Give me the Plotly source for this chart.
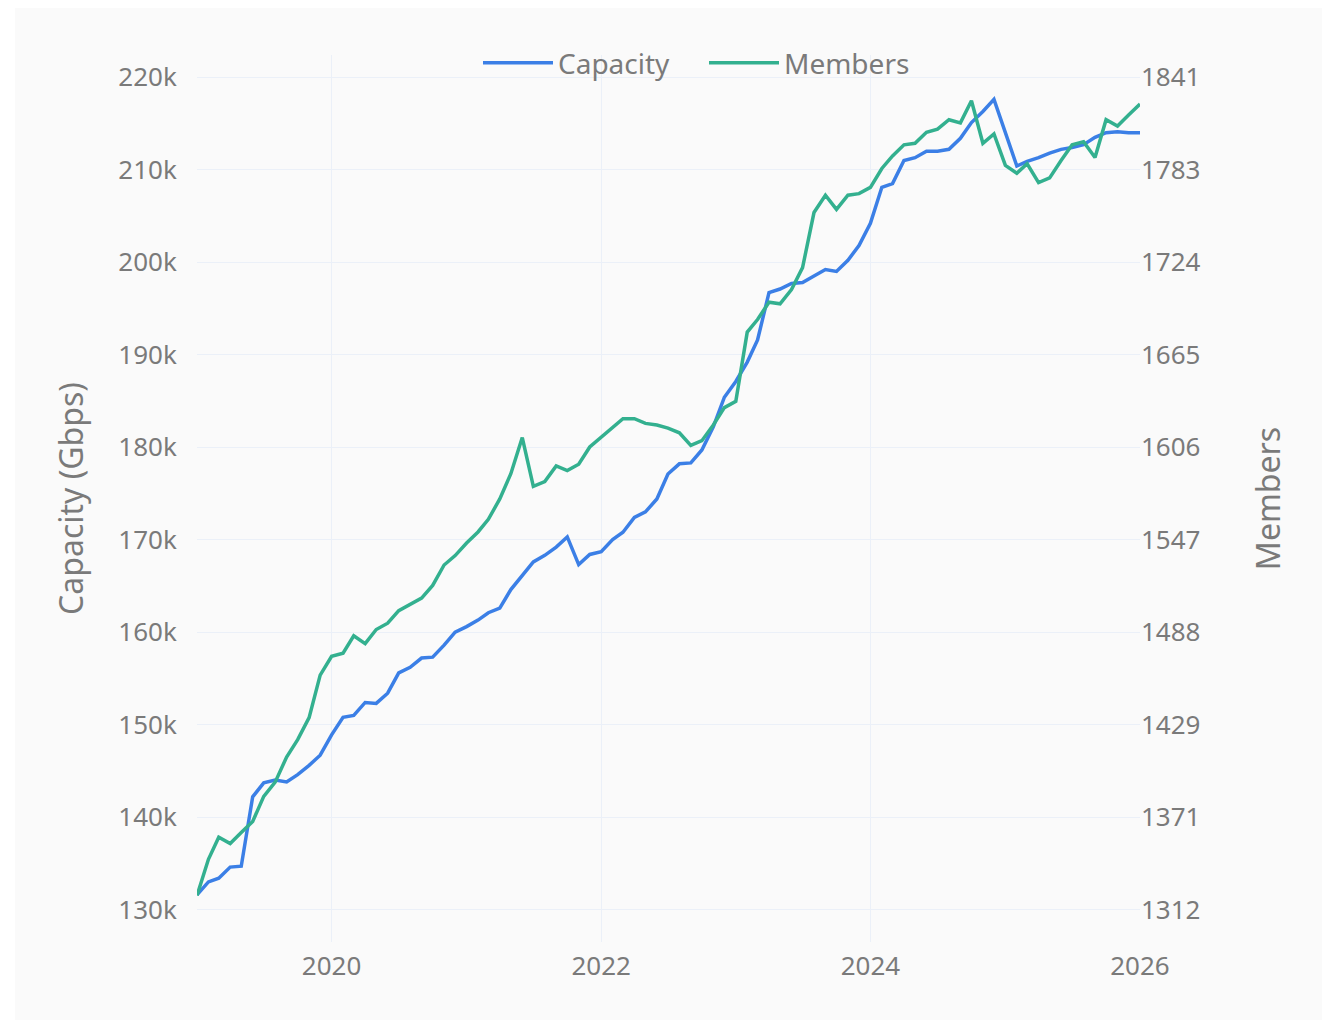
import plotly.graph_objects as go

months = [f"{2019 + i // 12}-{i % 12 + 1:02d}-01" for i in range(85)]

capacity_k = [
    131.6, 133.0, 133.4, 134.6, 134.7, 142.2, 143.7, 144.0, 143.8, 144.6, 145.6, 146.7,
    148.9, 150.8, 151.0, 152.4, 152.3, 153.4, 155.6, 156.2, 157.2, 157.3, 158.6, 160.0,
    160.6, 161.3, 162.1, 162.6, 164.6, 166.1, 167.6, 168.3, 169.2, 170.3, 167.3, 168.4,
    168.7, 170.0, 170.8, 172.4, 173.0, 174.4, 177.1, 178.2, 178.3, 179.7, 182.2, 185.4,
    187.1, 189.2, 191.6, 196.7, 197.1, 197.7, 197.8, 198.5, 199.2, 199.0, 200.2, 201.8,
    204.2, 208.1, 208.5, 211.0, 211.3, 212.0, 212.0, 212.2, 213.4, 215.1, 216.3, 217.6,
    213.9, 210.4, 210.9, 211.3, 211.8, 212.2, 212.4, 212.7, 213.5, 214.0, 214.1, 214.0,
    214.0,
]
capacity = [v * 1000 for v in capacity_k]

members = [
    1321, 1344, 1358, 1354, 1361, 1368, 1384, 1393, 1409, 1420, 1434, 1461,
    1473, 1475, 1486, 1481, 1490, 1494, 1502, 1506, 1510, 1518, 1531, 1537,
    1545, 1552, 1560, 1573, 1589, 1612, 1581, 1584, 1594, 1591, 1595, 1606,
    1612, 1618, 1624, 1624, 1621, 1620, 1618, 1615, 1607, 1610, 1620, 1631,
    1635, 1679, 1687, 1698, 1697, 1706, 1720, 1755, 1766, 1757, 1766, 1767,
    1771, 1783, 1791, 1798, 1799, 1806, 1808, 1814, 1812, 1826, 1799, 1805,
    1785, 1780, 1786, 1774, 1777, 1788, 1798, 1800, 1790, 1814, 1810, 1817,
    1824,
]

left_tickvals = [130000, 140000, 150000, 160000, 170000, 180000, 190000, 200000, 210000, 220000]
left_ticktext = ["130k", "140k", "150k", "160k", "170k", "180k", "190k", "200k", "210k", "220k"]
right_ticktext = ["1312", "1371", "1429", "1488", "1547", "1606", "1665", "1724", "1783", "1841"]
x_tickvals = ["2020-01-01", "2022-01-01", "2024-01-01", "2026-01-01"]
x_ticktext = ["2020", "2022", "2024", "2026"]

# right axis aligned with left gridlines
r_lo, r_hi = float(right_ticktext[0]), float(right_ticktext[-1])
l_lo, l_hi = left_tickvals[0], left_tickvals[-1]
def l2r(v):
    return r_lo + (v - l_lo) / (l_hi - l_lo) * (r_hi - r_lo)
right_tickvals = [l2r(v) for v in left_tickvals]
left_range = [126500, 222400]
right_range = [l2r(left_range[0]), l2r(left_range[1])]

TXT = "#7a7a7a"
FONT = "Noto Sans"

W, H = 1316, 1012
L, R, T, B = 189, 184, 47, 78
PW, PH = W - L - R, H - T - B

fig = go.Figure()
fig.add_trace(go.Scatter(x=months, y=capacity, name="Capacity", mode="lines",
                         line=dict(color="#3b7fe6", width=3.5)))
fig.add_trace(go.Scatter(x=months, y=members, name="Members", mode="lines",
                         line=dict(color="#33b08f", width=3.5), yaxis="y2"))

fig.update_layout(
    width=W, height=H,
    margin=dict(l=L, r=R, t=T, b=B),
    paper_bgcolor="white",
    plot_bgcolor="rgba(0,0,0,0)",
    font=dict(family=FONT, color=TXT, size=26),
    showlegend=True,
    legend=dict(orientation="h", x=(478 - 8 - L) / PW, xanchor="left", y=0.991, yanchor="middle",
                bgcolor="rgba(0,0,0,0)", font=dict(size=28, color=TXT),
                itemwidth=70, entrywidth=141),
    xaxis=dict(range=["2019-01-01", "2026-01-01"], tickvals=x_tickvals, ticktext=x_ticktext,
               showgrid=True, gridcolor="#ebf0f8", gridwidth=1, zeroline=False,
               showline=False, ticks="outside", ticklen=1, tickcolor="rgba(0,0,0,0)",
               tickfont=dict(size=26, color=TXT)),
    yaxis=dict(range=left_range, tickvals=left_tickvals, ticktext=left_ticktext,
               showgrid=True, gridcolor="#ebf0f8", gridwidth=1, zeroline=False,
               ticks="outside", ticklen=14, tickcolor="rgba(0,0,0,0)",
               tickfont=dict(size=26, color=TXT),
               title=dict(text="Capacity (Gbps)", font=dict(size=32, color=TXT), standoff=25)),
    yaxis2=dict(range=right_range, tickvals=right_tickvals, ticktext=right_ticktext,
                overlaying="y", side="right", showgrid=False, zeroline=False,
                ticks="", tickfont=dict(size=26, color=TXT),
                title=dict(text="Members", font=dict(size=32, color=TXT), standoff=57)),
    shapes=[dict(type="rect", xref="paper", yref="paper",
                 x0=(7 - L) / PW, x1=(1314 - L) / PW,
                 y0=-(B + 10) / PH, y1=(PH + T) / PH,
                 fillcolor="#fafafa", line=dict(width=0), layer="below")],
)

fig.write_html("out.html")
